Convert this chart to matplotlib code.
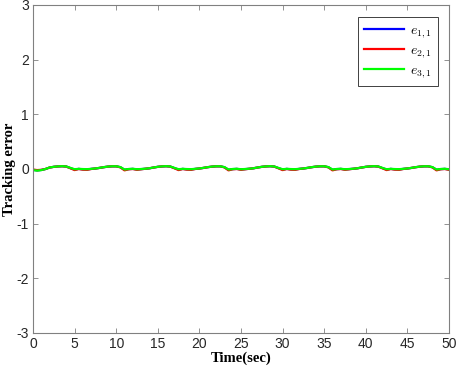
import matplotlib
matplotlib.use("Agg")
import matplotlib.pyplot as plt
import numpy as np

# Time samples (sec)
time = [i * 0.5 for i in range(101)]

# Green series e_{3,1}
e31 = [-0.02, -0.03, -0.02, 0.0, 0.028, 0.04, 0.048, 0.052, 0.046, 0.02,
       -0.004, 0.003, -0.001, -0.003, 0.003, 0.01, 0.021, 0.034, 0.044, 0.05,
       0.05, 0.035, -0.009, 0.0, 0.004, -0.004, 0.0, 0.005, 0.014, 0.028,
       0.04, 0.048, 0.052, 0.046, 0.02, -0.004, 0.003, -0.001, -0.003, 0.003,
       0.01, 0.021, 0.034, 0.044, 0.05, 0.05, 0.035, -0.009, 0.0, 0.004,
       -0.004, 0.0, 0.005, 0.014, 0.028, 0.04, 0.048, 0.052, 0.046, 0.02,
       -0.004, 0.003, -0.001, -0.003, 0.003, 0.01, 0.021, 0.034, 0.044, 0.05,
       0.05, 0.035, -0.009, 0.0, 0.004, -0.004, 0.0, 0.005, 0.014, 0.028,
       0.04, 0.048, 0.052, 0.046, 0.02, -0.004, 0.003, -0.001, -0.003, 0.003,
       0.01, 0.021, 0.034, 0.044, 0.05, 0.05, 0.035, -0.009, 0.0, 0.004,
       -0.004]

# Red series e_{2,1}
e21 = [-0.01, -0.02, -0.015, 0.0, 0.027, 0.039, 0.047, 0.051, 0.044, 0.013,
       -0.02, 0.0, -0.012, -0.015, 0.0, 0.009, 0.02, 0.033, 0.043, 0.049,
       0.049, 0.03, -0.025, -0.005, 0.0, -0.015, -0.005, 0.004, 0.013, 0.027,
       0.039, 0.047, 0.051, 0.044, 0.013, -0.02, 0.0, -0.012, -0.015, 0.0,
       0.009, 0.02, 0.033, 0.043, 0.049, 0.049, 0.03, -0.025, -0.005, 0.0,
       -0.015, -0.005, 0.004, 0.013, 0.027, 0.039, 0.047, 0.051, 0.044, 0.013,
       -0.02, 0.0, -0.012, -0.015, 0.0, 0.009, 0.02, 0.033, 0.043, 0.049,
       0.049, 0.03, -0.025, -0.005, 0.0, -0.015, -0.005, 0.004, 0.013, 0.027,
       0.039, 0.047, 0.051, 0.044, 0.013, -0.02, 0.0, -0.012, -0.015, 0.0,
       0.009, 0.02, 0.033, 0.043, 0.049, 0.049, 0.03, -0.025, -0.005, 0.0,
       -0.015]

# Blue series e_{1,1}
e11 = [-0.015, -0.025, -0.018, 0.0, 0.027, 0.04, 0.047, 0.051, 0.045, 0.016,
       -0.01, 0.002, -0.006, -0.008, 0.002, 0.009, 0.02, 0.033, 0.043, 0.049,
       0.049, 0.033, -0.015, -0.002, 0.002, -0.008, -0.002, 0.004, 0.013, 0.027,
       0.04, 0.047, 0.051, 0.045, 0.016, -0.01, 0.002, -0.006, -0.008, 0.002,
       0.009, 0.02, 0.033, 0.043, 0.049, 0.049, 0.033, -0.015, -0.002, 0.002,
       -0.008, -0.002, 0.004, 0.013, 0.027, 0.04, 0.047, 0.051, 0.045, 0.016,
       -0.01, 0.002, -0.006, -0.008, 0.002, 0.009, 0.02, 0.033, 0.043, 0.049,
       0.049, 0.033, -0.015, -0.002, 0.002, -0.008, -0.002, 0.004, 0.013, 0.027,
       0.04, 0.047, 0.051, 0.045, 0.016, -0.01, 0.002, -0.006, -0.008, 0.002,
       0.009, 0.02, 0.033, 0.043, 0.049, 0.049, 0.033, -0.015, -0.002, 0.002,
       -0.008]

xticks = list(range(0, 51, 5))
yticks = [-3, -2, -1, 0, 1, 2, 3]
labels = [r"$e_{1,1}$", r"$e_{2,1}$", r"$e_{3,1}$"]
colors = ["#0000ff", "#ff0000", "#00ff00"]

plt.rcParams["mathtext.fontset"] = "cm"
plt.rcParams["font.family"] = ["Liberation Sans", "DejaVu Sans"]

fig = plt.figure(figsize=(4.57, 3.71), dpi=100)
ax = fig.add_axes([33 / 457, 1 - 333 / 371, (449 - 33) / 457, (333 - 5) / 371])

for ys, c, lab in zip([e11, e21, e31], colors, labels):
    ax.plot(time, ys, color=c, linewidth=1.6, label=lab)

ax.set_xlim(0, 50)
ax.set_ylim(-3, 3)
ax.set_xticks(xticks)
ax.set_yticks(yticks)
ax.set_yticklabels([str(v) for v in yticks])

axis_col = "#262626"
for sp in ax.spines.values():
    sp.set_color("#808080")
    sp.set_linewidth(0.8)
ax.tick_params(direction="in", top=True, right=True, length=3.5, width=0.6,
               colors="#808080", labelcolor=axis_col, labelsize=10, pad=3)

ax.set_xlabel("Time(sec)", fontfamily="Liberation Serif", fontweight="bold",
              fontsize=10.5, color="black", labelpad=0)
ax.set_ylabel("Tracking error", fontfamily="Liberation Serif", fontweight="bold",
              fontsize=10.5, color="black")
ax.yaxis.set_label_coords(-17 / 416, 0.5)

leg = ax.legend(loc="upper right", bbox_to_anchor=(1 - 11 / 416, 1 - 12 / 328),
                fontsize=10, frameon=True, fancybox=False, framealpha=1,
                edgecolor="#404040", handlelength=2.9, borderaxespad=0,
                labelspacing=0.2, handletextpad=0.4, borderpad=0.45)
leg.get_frame().set_linewidth(0.7)

fig.savefig("out.png", dpi=100)
